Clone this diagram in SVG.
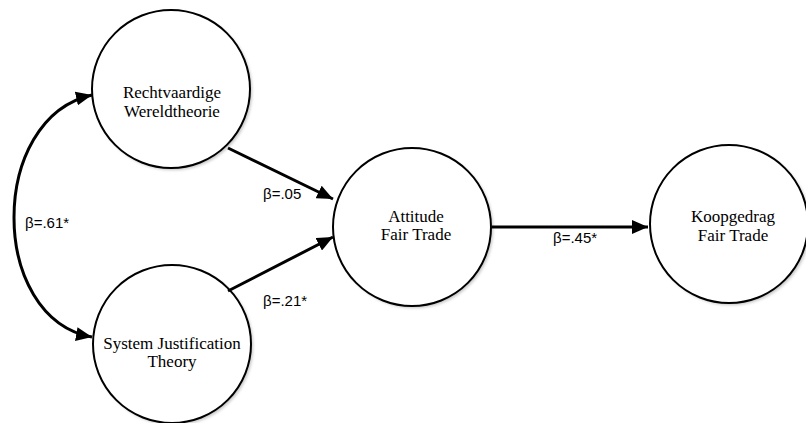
<svg xmlns="http://www.w3.org/2000/svg" width="806" height="423" viewBox="0 0 806 423">
<defs>
<style>
.node{fill:#fff;stroke:#000;stroke-width:2}
.shadow{fill:#888;opacity:0.5;filter:url(#blur)}
.lbl{font-family:"Liberation Serif","Times New Roman",serif;font-size:17px;fill:#000;text-anchor:middle}
.beta{font-family:"Liberation Sans",Arial,sans-serif;font-size:15px;fill:#000}
.edge{fill:none;stroke:#000;stroke-width:3}
</style>
<filter id="blur" x="-20%" y="-20%" width="140%" height="140%"><feGaussianBlur stdDeviation="1.5"/></filter>
<marker id="ah" viewBox="0 0 16 14" refX="16" refY="7" markerWidth="16" markerHeight="14" markerUnits="userSpaceOnUse" orient="auto-start-reverse">
<path d="M0,0 L16,7 L0,14 Z" fill="#000"/>
</marker>
</defs>
<rect width="806" height="423" fill="#fff"/>
<g id="n1">
<circle class="shadow" cx="173" cy="91" r="79"/>
<circle class="node" cx="171" cy="89" r="79"/>
<text class="lbl" x="172" y="98">Rechtvaardige</text>
<text class="lbl" x="172" y="117">Wereldtheorie</text>
</g>
<g id="n2">
<circle class="shadow" cx="174" cy="346" r="79"/>
<circle class="node" cx="172" cy="344" r="79"/>
<text class="lbl" x="172" y="349">System Justification</text>
<text class="lbl" x="172" y="367">Theory</text>
</g>
<g id="n3">
<circle class="shadow" cx="414" cy="229" r="79"/>
<circle class="node" cx="412" cy="227" r="79"/>
<text class="lbl" x="416" y="222">Attitude</text>
<text class="lbl" x="416" y="240">Fair Trade</text>
</g>
<g id="n4">
<circle class="shadow" cx="731" cy="226" r="79"/>
<circle class="node" cx="729" cy="224" r="79"/>
<text class="lbl" x="733" y="222">Koopgedrag</text>
<text class="lbl" x="733" y="241">Fair Trade</text>
</g>
<g id="edges">
<path class="edge" d="M228,148 L333,199" marker-end="url(#ah)"/>
<path class="edge" d="M228,291 L333,237" marker-end="url(#ah)"/>
<path class="edge" d="M492,227 L648,227" marker-end="url(#ah)"/>
<path class="edge" d="M92,95 C-12,118 -12,318 92,337" marker-start="url(#ah)" marker-end="url(#ah)"/>
<text class="beta" x="263" y="199">β=.05</text>
<text class="beta" x="263" y="306">β=.21*</text>
<text class="beta" x="553" y="243">β=.45*</text>
<text class="beta" x="25" y="228">β=.61*</text>
</g>
</svg>
